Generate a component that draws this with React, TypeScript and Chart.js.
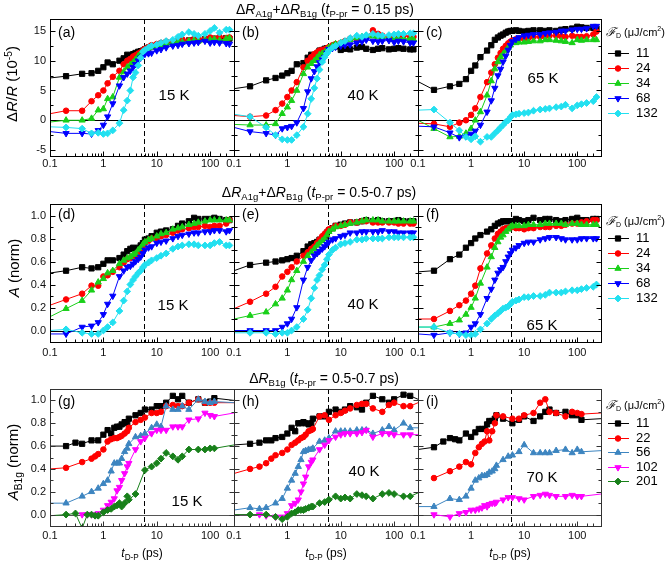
import React, { useEffect, useRef } from 'react';
import { Chart, registerables } from 'chart.js';

Chart.register(...registerables);

const FONT = "'Liberation Sans', Arial, Helvetica, sans-serif";
Chart.defaults.font.family = FONT;

const W = 665;
const H = 561;
const X_MIN = 0.1;
const X_MAX = 280;
const DASH_T = 5.7;
const X_LABELS = [0.1, 1, 10, 100];
const Y_TICKS_DR = [-5, 0, 5, 10, 15];
const Y_TICKS_NORM = [0, 0.2, 0.4, 0.6, 0.8, 1.0];

const COL_L = [50, 234, 418];
const COL_R = [234, 418, 601];
const ROW_T = [19, 204, 389];
const ROW_B = [156, 342, 526];

// ---- time grids (ps) ----
const T12 = [0.1, 0.2, 0.4, 0.6, 0.8, 1, 1.2, 1.5, 2, 2.4, 2.8, 3.2, 3.6, 4, 4.5, 5, 5.5, 6, 7, 8, 10, 12, 15, 20, 25, 30, 40, 50, 60, 80, 100, 120, 150, 200, 230];
const T3 = [0.1, 0.2, 0.3, 0.4, 0.5, 0.6, 0.7, 0.8, 1, 1.2, 1.4, 1.6, 1.8, 2, 2.2, 2.5, 2.8, 3, 4, 5, 6, 8, 10, 12, 15, 20, 25, 30, 40, 60, 80, 100, 120, 150, 200, 280];

// ---- (a) 15 K, dR/R (1e-5) ----
const A_11 = [7.1, 7.4, 7.8, 7.9, 8.3, 8.9, 9.7, 9.4, 10.0, 10.4, 11.0, 10.8, 11.1, 11.3, 11.5, 11.6, 11.7, 11.9, 12.2, 12.4, 12.6, 12.8, 13.0, 13.1, 13.3, 13.2, 13.4, 13.5, 13.4, 13.6, 13.5, 13.7, 13.6, 13.8, 13.7];
const A_24 = [1.1, 1.6, 1.6, 3.2, 4.2, 5.0, 6.2, 7.3, 8.3, 9.4, 10.0, 10.3, 10.7, 10.9, 11.2, 11.4, 11.7, 12.0, 12.3, 12.6, 12.8, 13.0, 13.2, 13.0, 13.3, 13.6, 13.4, 13.6, 13.8, 13.6, 13.9, 13.7, 14.0, 13.8, 13.9];
const A_34 = [-0.3, 0, 0, 0.3, 1.7, 1.9, 3.6, 3.9, 7.2, 8.1, 8.9, 9.3, 9.7, 10.2, 10.8, 11.2, 11.5, 11.7, 12.1, 12.3, 12.5, 12.7, 12.9, 13.0, 13.2, 13.1, 13.3, 13.4, 13.3, 13.5, 13.5, 13.6, 13.4, 13.7, 13.8];
const A_68 = [-1.9, -2.2, -2.2, -2.3, -1.7, -0.8, 0.6, 2.8, 5.8, 7.2, 7.8, 8.3, 8.9, 9.4, 10.0, 10.5, 10.8, 11.1, 11.2, 11.3, 11.7, 11.9, 12.2, 12.5, 12.6, 12.8, 12.9, 13.0, 13.1, 13.3, 13.0, 13.1, 13.0, 12.9, 12.8];
const A_132 = [-1.1, -1.2, -1.4, -2.2, -2.1, -2.3, -2.2, -1.7, -0.5, 1.7, 3.3, 5.0, 7.2, 8.0, 9.2, 10.5, 11.5, 11.8, 12.2, 12.5, 12.7, 13.0, 13.3, 13.5, 14.0, 14.4, 14.8, 14.5, 14.2, 14.5, 15.0, 15.5, 14.7, 15.2, 15.2];

// ---- (b) 40 K ----
const B_11 = [5.3, 5.7, 6.7, 7.1, 7.5, 7.9, 8.3, 9.4, 9.6, 10.5, 11.0, 10.7, 11.2, 11.7, 11.8, 12.0, 12.1, 12.1, 12.3, 12.4, 11.8, 12.0, 11.9, 12.2, 12.3, 12.0, 11.8, 12.0, 12.1, 11.9, 12.0, 12.1, 12.0, 11.9, 11.9];
const B_24 = [0.8, 0.6, 0.8, 1.7, 2.8, 3.9, 5.0, 6.4, 8.9, 10.0, 10.6, 11.1, 11.4, 11.7, 11.8, 11.9, 12.1, 12.3, 12.6, 12.8, 13.0, 13.3, 13.7, 13.5, 13.8, 14.0, 15.1, 14.5, 14.2, 14.0, 14.0, 14.1, 14.2, 14.0, 14.0];
const B_34 = [-0.7, -0.8, -0.8, -0.6, 1.1, 2.2, 3.3, 5.0, 7.8, 8.9, 9.5, 10.0, 10.5, 11.0, 11.2, 11.4, 11.8, 12.2, 12.5, 12.8, 13.0, 13.2, 13.5, 13.8, 14.0, 14.2, 14.1, 14.0, 13.9, 13.8, 13.7, 13.8, 13.7, 13.7, 13.6];
const B_68 = [-1.2, -1.9, -2.2, -2.5, -1.4, -1.2, -1.0, -0.4, 2.0, 4.8, 7.0, 8.2, 9.0, 9.7, 10.2, 10.6, 11.3, 11.9, 12.1, 12.3, 12.5, 12.6, 12.7, 13.0, 13.2, 13.5, 13.3, 13.2, 13.3, 13.4, 13.1, 13.3, 13.2, 13.0, 13.0];
const B_132 = [1.0, 0.6, -1.2, -2.5, -3.2, -3.3, -3.3, -2.5, -1.1, 1.1, 3.6, 5.4, 7.0, 8.5, 9.8, 10.6, 11.2, 11.7, 12.2, 12.5, 13.0, 13.3, 13.8, 14.2, 14.0, 14.3, 14.5, 14.3, 14.2, 14.3, 14.4, 14.5, 14.5, 14.6, 14.6];

// ---- (c) 65 K ----
const C_11 = [6.5, 5.1, 5.7, 6.1, 6.9, 8.3, 9.2, 10.6, 11.7, 12.6, 13.5, 13.9, 14.2, 14.4, 14.7, 14.9, 15.0, 15.0, 15.1, 15.0, 14.9, 15.0, 15.1, 15.1, 15.0, 15.1, 15.0, 15.2, 15.3, 15.4, 15.7, 15.6, 15.5, 15.5, 15.4];
const C_24 = [-0.5, -0.6, -1.1, -0.4, 0, 0.9, 2.0, 3.9, 6.4, 8.0, 9.4, 10.5, 11.3, 12.0, 12.5, 12.9, 13.2, 13.4, 13.6, 13.7, 13.7, 13.8, 14.0, 14.0, 14.1, 14.2, 14.2, 14.1, 14.0, 14.2, 14.0, 14.0, 14.1, 14.4, 14.9];
const C_34 = [0, -1.4, -2.8, -2.7, -2.2, -1.4, 0, 1.4, 4.2, 6.6, 8.6, 9.8, 10.6, 11.1, 11.7, 12.2, 12.6, 13.0, 13.0, 13.1, 13.1, 13.2, 13.3, 13.3, 13.5, 13.5, 13.4, 13.3, 13.2, 13.0, 13.5, 13.4, 13.5, 13.5, 13.5];
const C_68 = [-1.0, -1.1, -2.1, -2.9, -2.7, -2.3, -1.8, -0.8, 1.4, 3.3, 5.4, 7.5, 8.6, 9.8, 10.8, 11.8, 12.6, 13.2, 13.6, 13.9, 14.2, 14.3, 14.4, 14.4, 14.6, 14.7, 14.8, 15.0, 15.0, 15.2, 15.3, 15.3, 15.4, 15.8, 15.8];
const C_132 = [1.7, 1.8, -0.4, -1.7, -2.8, -3.2, -2.7, -3.6, -2.8, -2.8, -2.2, -1.7, -1.2, -0.8, -0.3, 0, 0.5, 0.9, 1.0, 1.1, 1.2, 1.3, 1.6, 1.8, 1.9, 2.0, 2.2, 2.3, 2.6, 2.0, 2.5, 2.7, 2.9, 3.2, 3.9];

// ---- (d) 15 K, A (norm) ----
const D_11 = [0.50, 0.52, 0.55, 0.54, 0.55, 0.58, 0.61, 0.61, 0.63, 0.66, 0.69, 0.71, 0.72, 0.70, 0.72, 0.74, 0.76, 0.79, 0.80, 0.82, 0.85, 0.86, 0.87, 0.88, 0.91, 0.93, 0.95, 0.98, 0.97, 0.97, 0.97, 0.98, 0.97, 0.96, 0.96];
const D_24 = [0.22, 0.27, 0.32, 0.39, 0.39, 0.47, 0.48, 0.51, 0.55, 0.59, 0.62, 0.63, 0.64, 0.65, 0.68, 0.70, 0.73, 0.76, 0.78, 0.80, 0.80, 0.82, 0.83, 0.85, 0.87, 0.88, 0.89, 0.90, 0.90, 0.91, 0.90, 0.91, 0.91, 0.93, 0.96];
const D_34 = [0.12, 0.19, 0.26, 0.35, 0.42, 0.45, 0.50, 0.52, 0.58, 0.61, 0.63, 0.64, 0.66, 0.67, 0.70, 0.72, 0.75, 0.77, 0.79, 0.80, 0.82, 0.84, 0.85, 0.88, 0.89, 0.90, 0.92, 0.93, 0.94, 0.95, 0.96, 0.96, 0.96, 0.96, 0.96];
const D_68 = [-0.03, -0.03, 0.03, 0.04, 0.07, 0.14, 0.23, 0.30, 0.47, 0.52, 0.55, 0.56, 0.58, 0.60, 0.62, 0.64, 0.67, 0.70, 0.72, 0.73, 0.76, 0.77, 0.78, 0.80, 0.82, 0.83, 0.84, 0.85, 0.85, 0.86, 0.86, 0.87, 0.87, 0.86, 0.87];
const D_132 = [0, 0.01, -0.02, -0.03, -0.03, 0, 0.03, 0.07, 0.17, 0.26, 0.34, 0.40, 0.44, 0.47, 0.50, 0.52, 0.55, 0.57, 0.59, 0.61, 0.63, 0.65, 0.67, 0.71, 0.73, 0.74, 0.75, 0.75, 0.74, 0.74, 0.74, 0.76, 0.77, 0.74, 0.74];

// ---- (e) 40 K ----
const E_11 = [0.52, 0.57, 0.59, 0.60, 0.61, 0.62, 0.63, 0.65, 0.69, 0.73, 0.75, 0.76, 0.77, 0.79, 0.80, 0.82, 0.85, 0.87, 0.89, 0.91, 0.92, 0.93, 0.94, 0.94, 0.95, 0.96, 0.95, 0.96, 0.95, 0.95, 0.95, 0.96, 0.95, 0.95, 0.95];
const E_24 = [0.19, 0.25, 0.32, 0.38, 0.47, 0.51, 0.55, 0.60, 0.65, 0.68, 0.71, 0.73, 0.76, 0.79, 0.82, 0.84, 0.86, 0.88, 0.89, 0.91, 0.91, 0.92, 0.94, 0.94, 0.95, 0.95, 0.94, 0.94, 0.94, 0.94, 0.94, 0.93, 0.93, 0.93, 0.93];
const E_34 = [0.10, 0.13, 0.16, 0.23, 0.28, 0.35, 0.44, 0.52, 0.60, 0.65, 0.68, 0.71, 0.74, 0.76, 0.78, 0.80, 0.83, 0.86, 0.88, 0.90, 0.91, 0.92, 0.93, 0.94, 0.95, 0.96, 0.96, 0.96, 0.95, 0.95, 0.95, 0.95, 0.95, 0.95, 0.95];
const E_68 = [0, 0, 0, 0, 0.03, 0.06, 0.10, 0.20, 0.44, 0.55, 0.61, 0.65, 0.67, 0.69, 0.71, 0.73, 0.75, 0.77, 0.79, 0.80, 0.82, 0.83, 0.85, 0.85, 0.86, 0.86, 0.86, 0.86, 0.87, 0.86, 0.86, 0.85, 0.85, 0.85, 0.85];
const E_132 = [-0.02, -0.02, -0.02, -0.03, -0.02, -0.02, 0, 0.03, 0.10, 0.18, 0.28, 0.37, 0.44, 0.48, 0.53, 0.57, 0.62, 0.66, 0.70, 0.72, 0.75, 0.76, 0.77, 0.79, 0.79, 0.80, 0.80, 0.80, 0.80, 0.81, 0.81, 0.81, 0.81, 0.81, 0.81];

// ---- (f) 65 K ----
const F_11 = [0.51, 0.52, 0.62, 0.66, 0.72, 0.76, 0.80, 0.83, 0.86, 0.88, 0.91, 0.93, 0.94, 0.95, 0.95, 0.95, 0.95, 0.95, 0.97, 0.96, 0.95, 0.96, 0.98, 0.96, 0.97, 0.97, 0.96, 0.95, 0.96, 0.97, 0.98, 0.96, 0.96, 0.97, 0.97];
const F_24 = [0.10, 0.10, 0.17, 0.22, 0.26, 0.32, 0.39, 0.54, 0.67, 0.74, 0.80, 0.84, 0.86, 0.88, 0.89, 0.89, 0.90, 0.90, 0.89, 0.89, 0.88, 0.89, 0.89, 0.90, 0.90, 0.90, 0.91, 0.91, 0.92, 0.93, 0.93, 0.94, 0.95, 0.96, 0.96];
const F_34 = [0.03, 0.03, 0.06, 0.09, 0.14, 0.20, 0.28, 0.41, 0.55, 0.64, 0.72, 0.77, 0.81, 0.83, 0.86, 0.88, 0.90, 0.91, 0.91, 0.91, 0.91, 0.92, 0.92, 0.92, 0.93, 0.93, 0.93, 0.93, 0.92, 0.93, 0.93, 0.92, 0.92, 0.92, 0.92];
const F_68 = [-0.03, -0.04, -0.02, -0.03, -0.02, 0.03, 0.06, 0.14, 0.28, 0.36, 0.44, 0.50, 0.53, 0.55, 0.60, 0.64, 0.67, 0.70, 0.72, 0.74, 0.76, 0.77, 0.77, 0.79, 0.80, 0.81, 0.81, 0.80, 0.79, 0.79, 0.79, 0.80, 0.80, 0.80, 0.80];
const F_132 = [0.03, 0.03, -0.02, -0.03, -0.04, -0.04, -0.03, 0.01, 0.06, 0.10, 0.13, 0.15, 0.17, 0.19, 0.20, 0.21, 0.23, 0.25, 0.26, 0.27, 0.29, 0.29, 0.30, 0.30, 0.31, 0.33, 0.33, 0.33, 0.34, 0.35, 0.35, 0.36, 0.37, 0.38, 0.40];

// ---- (g) 15 K, A_B1g (norm) ----
const G_11 = [0.60, 0.60, 0.63, 0.62, null, 0.65, null, 0.65, 0.70, 0.74, 0.71, 0.76, 0.77, 0.77, 0.79, 0.81, 0.80, 0.84, 0.87, 0.89, 0.92, 0.92, 0.95, 0.95, 0.98, 1.04, 1.01, 1.04, 0.98, 1.01, 0.98, 0.99, 1.02, null, null, 1.00];
const G_22 = [0.40, 0.41, null, 0.46, null, 0.49, 0.51, 0.53, 0.57, 0.64, 0.66, 0.67, 0.67, 0.68, 0.69, 0.71, 0.73, 0.76, 0.81, 0.83, 0.85, 0.89, 0.89, 0.90, 0.95, 0.96, 0.95, 0.95, 0.98, 1.01, 0.98, 0.98, 0.98, null, null, 0.98];
const G_56 = [0.10, 0.10, null, 0.16, null, 0.20, null, 0.23, 0.27, 0.30, 0.38, 0.45, 0.45, 0.45, 0.49, 0.55, 0.58, 0.62, 0.68, 0.69, 0.71, 0.76, 0.79, 0.77, 0.95, 0.92, 0.92, 0.95, 0.92, 1.01, 0.99, 0.98, 0.99, null, null, 0.98];
const G_102 = [null, null, null, 0, 0, 0, null, 0.01, 0.04, 0.08, 0.11, 0.14, 0.21, 0.24, 0.30, 0.36, 0.42, 0.45, 0.57, 0.64, 0.67, 0.71, 0.74, 0.74, 0.74, 0.77, 0.77, 0.77, 0.83, 0.84, 0.89, 0.87, 0.86, null, null, 0.89];
const G_201 = [-0.01, 0, 0.01, -0.12, 0, 0, -0.01, -0.01, 0.02, 0.04, 0.05, 0.07, 0.08, 0.10, 0.07, 0.10, 0.16, 0.13, 0.18, null, 0.39, 0.42, 0.45, 0.49, 0.54, 0.51, 0.48, 0.51, 0.57, 0.57, 0.57, 0.58, 0.58, null, null, 0.61];

// ---- (h) 40 K ----
const H_11 = [0.61, 0.62, 0.63, 0.65, 0.65, 0.67, null, 0.68, 0.71, 0.76, 0.73, 0.80, 0.80, 0.81, 0.80, 0.79, 0.80, 0.84, 0.86, 0.86, 0.90, 0.92, 0.90, 0.92, 0.95, 0.94, 0.92, 0.98, 1.04, 1.01, 0.98, 1.01, null, 1.05, 1.04, 1.01];
const H_22 = [0.36, 0.40, 0.42, 0.45, 0.49, 0.52, null, 0.54, 0.57, 0.61, 0.63, 0.65, 0.67, 0.68, 0.70, 0.73, 0.74, 0.75, 0.86, 0.87, 0.83, 0.87, 0.89, 0.91, 0.93, 0.96, 0.97, 0.97, 0.93, 0.90, 0.96, 0.98, null, 0.95, 0.95, 0.98];
const H_56 = [0.04, 0.06, 0.05, 0.06, null, 0.10, null, 0.14, 0.23, 0.30, 0.36, 0.42, 0.48, 0.55, 0.56, 0.57, 0.57, 0.58, 0.64, 0.65, 0.67, 0.73, 0.73, 0.73, 0.73, 0.74, 0.74, 0.74, 0.71, 0.74, 0.77, 0.74, null, 0.80, 0.76, 0.76];
const H_102 = [0, null, 0, -0.01, null, -0.02, null, -0.02, 0.01, 0.08, 0.10, 0.13, 0.20, 0.27, 0.33, 0.42, 0.46, 0.48, 0.57, 0.61, 0.65, 0.68, 0.70, 0.71, 0.71, 0.71, 0.72, 0.74, 0.68, 0.71, 0.71, 0.70, null, 0.70, 0.70, 0.70];
const H_201 = [0, 0, null, 0, null, -0.02, null, -0.04, -0.02, 0.01, 0.02, 0.04, 0.04, 0.04, 0.05, 0.06, 0.07, 0.07, 0.10, 0.11, 0.13, 0.16, 0.14, 0.15, 0.14, 0.18, 0.17, 0.16, 0.14, 0.18, 0.19, 0.18, null, 0.16, 0.16, 0.19];

// ---- (i) 70 K ----
const I_11 = [0.57, 0.59, 0.64, 0.67, 0.66, 0.65, null, 0.71, 0.68, 0.72, 0.75, 0.75, 0.75, 0.79, 0.82, 0.82, 0.84, 0.87, 0.84, null, 0.80, 0.83, 0.86, null, 0.82, 0.86, 0.90, 0.92, 0.89, 0.90, 0.87, 0.87, 0.83, null, null, 0.84];
const I_22 = [null, 0.32, null, 0.38, null, 0.42, null, 0.46, 0.44, 0.54, 0.59, 0.62, 0.64, 0.73, 0.65, 0.73, 0.80, 0.87, 0.86, null, 0.84, 0.84, 0.87, null, 0.89, 0.98, 1.01, 0.90, 0.89, 0.86, 0.90, 0.89, 0.88, null, null, 0.89];
const I_56 = [0.07, 0.07, null, 0.14, null, 0.13, null, 0.16, 0.23, 0.30, 0.32, 0.34, 0.34, 0.35, 0.37, 0.38, 0.40, 0.43, 0.48, 0.51, 0.52, 0.55, 0.61, null, 0.54, 0.54, 0.54, 0.54, 0.56, 0.57, 0.54, 0.57, 0.55, null, null, 0.56];
const I_102 = [null, 0, null, -0.02, null, 0.01, null, 0.02, 0.04, 0.04, 0.05, 0.06, 0.08, 0.07, 0.09, 0.10, 0.10, 0.11, 0.13, 0.15, 0.15, 0.14, 0.13, null, 0.16, 0.17, 0.18, 0.17, 0.16, 0.16, 0.17, 0.16, 0.16, null, null, 0.18];
const I_201: (number | null)[] = [];

type Shape = 'rect' | 'circle' | 'triangle' | 'down' | 'diamond';
interface SeriesStyle { label: string; color: string; shape: Shape }

const STYLE_12: SeriesStyle[] = [
  { label: '11', color: '#000000', shape: 'rect' },
  { label: '24', color: '#ff0000', shape: 'circle' },
  { label: '34', color: '#19d019', shape: 'triangle' },
  { label: '68', color: '#0000ff', shape: 'down' },
  { label: '132', color: '#22e0f0', shape: 'diamond' },
];
const STYLE_3: SeriesStyle[] = [
  { label: '11', color: '#000000', shape: 'rect' },
  { label: '22', color: '#ff0000', shape: 'circle' },
  { label: '56', color: '#3d85c0', shape: 'triangle' },
  { label: '102', color: '#ff00ff', shape: 'down' },
  { label: '201', color: '#18801a', shape: 'diamond' },
];

const SIZE: Record<Shape, number> = { rect: 3.7, circle: 2.8, triangle: 3.6, down: 3.6, diamond: 3.4 };
const PSTYLE: Record<Shape, string> = { rect: 'rect', circle: 'circle', triangle: 'triangle', down: 'triangle', diamond: 'rectRot' };

interface RowCfg {
  yMin: number; yMax: number; ticks: number[]; dec: number; t: number[]; styles: SeriesStyle[];
  zero: string; frame: string; xPad: number; labelDy: number; legTitleDy: number; legStep: number;
}
const ROWS: RowCfg[] = [
  { yMin: -6, yMax: 17, ticks: Y_TICKS_DR, dec: 0, t: T12, styles: STYLE_12, zero: '#000', frame: '#000', xPad: 1, labelDy: 13, legTitleDy: 14, legStep: 15 },
  { yMin: -0.1, yMax: 1.1, ticks: Y_TICKS_NORM, dec: 1, t: T12, styles: STYLE_12, zero: '#000', frame: '#000', xPad: 4, labelDy: 10, legTitleDy: 18, legStep: 15 },
  { yMin: -0.1, yMax: 1.1, ticks: Y_TICKS_NORM, dec: 1, t: T3, styles: STYLE_3, zero: '#555', frame: '#333', xPad: 3, labelDy: 12, legTitleDy: 17, legStep: 14.6 },
];

interface PanelCfg { key: string; row: number; col: number; temp: string; tx: number; ty: number; series: (number | null)[][] }
const PANELS: PanelCfg[] = [
  { key: 'a', row: 0, col: 0, temp: '15 K', tx: 174, ty: 94, series: [A_11, A_24, A_34, A_68, A_132] },
  { key: 'b', row: 0, col: 1, temp: '40 K', tx: 363, ty: 94, series: [B_11, B_24, B_34, B_68, B_132] },
  { key: 'c', row: 0, col: 2, temp: '65 K', tx: 543, ty: 77, series: [C_11, C_24, C_34, C_68, C_132] },
  { key: 'd', row: 1, col: 0, temp: '15 K', tx: 173, ty: 304, series: [D_11, D_24, D_34, D_68, D_132] },
  { key: 'e', row: 1, col: 1, temp: '40 K', tx: 363, ty: 303, series: [E_11, E_24, E_34, E_68, E_132] },
  { key: 'f', row: 1, col: 2, temp: '65 K', tx: 542, ty: 324, series: [F_11, F_24, F_34, F_68, F_132] },
  { key: 'g', row: 2, col: 0, temp: '15 K', tx: 187, ty: 500, series: [G_11, G_22, G_56, G_102, G_201] },
  { key: 'h', row: 2, col: 1, temp: '40 K', tx: 364, ty: 470, series: [H_11, H_22, H_56, H_102, H_201] },
  { key: 'i', row: 2, col: 2, temp: '70 K', tx: 542, ty: 476, series: [I_11, I_22, I_56, I_102, I_201] },
];

function drawMarker(ctx: CanvasRenderingContext2D, shape: Shape, x: number, y: number, color: string) {
  const r = SIZE[shape];
  ctx.save();
  ctx.fillStyle = color;
  ctx.strokeStyle = color;
  ctx.lineWidth = 1;
  ctx.setLineDash([]);
  ctx.beginPath();
  if (shape === 'rect') {
    const s = r * Math.SQRT1_2;
    ctx.rect(x - s, y - s, 2 * s, 2 * s);
  } else if (shape === 'circle') {
    ctx.arc(x, y, r, 0, Math.PI * 2);
  } else if (shape === 'triangle' || shape === 'down') {
    const k = shape === 'down' ? -1 : 1;
    for (let i = 0; i < 3; i++) {
      const ang = (i * 2 * Math.PI) / 3;
      const px = x + Math.sin(ang) * r;
      const py = y - k * Math.cos(ang) * r;
      if (i === 0) ctx.moveTo(px, py); else ctx.lineTo(px, py);
    }
    ctx.closePath();
  } else {
    ctx.moveTo(x, y - r); ctx.lineTo(x + r, y); ctx.lineTo(x, y + r); ctx.lineTo(x - r, y); ctx.closePath();
  }
  ctx.fill();
  ctx.stroke();
  ctx.restore();
}

const framePlugin = {
  id: 'frame',
  beforeDatasetsDraw(chart: any, _a: any, o: any) {
    const { ctx, chartArea: a } = chart;
    const x = chart.scales.x;
    const y = chart.scales.y;
    ctx.save();
    ctx.beginPath();
    ctx.rect(a.left, a.top, a.right - a.left, a.bottom - a.top);
    ctx.clip();
    const y0 = Math.round(y.getPixelForValue(0)) + 0.5;
    ctx.strokeStyle = o.zeroColor;
    ctx.lineWidth = 1;
    ctx.beginPath(); ctx.moveTo(a.left, y0); ctx.lineTo(a.right, y0); ctx.stroke();
    const xd = Math.round(x.getPixelForValue(DASH_T)) + 0.5;
    ctx.strokeStyle = '#000';
    ctx.setLineDash([5, 3]);
    ctx.beginPath(); ctx.moveTo(xd, a.top); ctx.lineTo(xd, a.bottom); ctx.stroke();
    ctx.restore();
  },
  afterDatasetsDraw(chart: any, _a: any, o: any) {
    const { ctx, chartArea: a } = chart;
    const x = chart.scales.x;
    const y = chart.scales.y;
    const L = Math.round(a.left) + 0.5;
    const R = Math.round(a.right) + 0.5;
    const T = Math.round(a.top) + 0.5;
    const B = Math.round(a.bottom) + 0.5;
    ctx.save();
    ctx.strokeStyle = o.frameColor;
    ctx.lineWidth = 1;
    ctx.strokeRect(L, T, R - L, B - T);
    ctx.beginPath();
    for (const t of x.ticks) {
      const v = t.value;
      if (v <= X_MIN * 1.001 || v >= X_MAX * 0.999) continue;
      const px = Math.round(x.getPixelForValue(v)) + 0.5;
      const major = X_LABELS.some((m) => Math.abs(v - m) < m * 1e-6);
      ctx.moveTo(px, B); ctx.lineTo(px, B - (major ? 5 : 3));
    }
    const vals: number[] = y.ticks.map((t: any) => t.value);
    const step = vals.length > 1 ? vals[1] - vals[0] : 1;
    for (const v of vals) {
      const py = Math.round(y.getPixelForValue(v)) + 0.5;
      ctx.moveTo(L, py); ctx.lineTo(L + 5, py);
      ctx.moveTo(R, py); ctx.lineTo(R - 5, py);
    }
    for (let v = vals[0] - step / 2; v < y.max; v += step) {
      if (v <= y.min) continue;
      const py = Math.round(y.getPixelForValue(v)) + 0.5;
      ctx.moveTo(L, py); ctx.lineTo(L + 3, py);
      ctx.moveTo(R, py); ctx.lineTo(R - 3, py);
    }
    ctx.stroke();
    ctx.restore();
  },
};

const legendPlugin = {
  id: 'sideLegend',
  afterDraw(chart: any, _a: any, o: any) {
    if (!o || !o.show) return;
    const { ctx, chartArea: a } = chart;
    const x0 = a.right + 5;
    ctx.save();
    ctx.fillStyle = '#000';
    ctx.textAlign = 'left';
    ctx.textBaseline = 'middle';
    const ty = a.top + o.titleDy;
    let tx = x0;
    ctx.font = `italic 12px 'DejaVu Serif', serif`;
    ctx.fillText('ℱ', tx, ty);
    tx += ctx.measureText('ℱ').width;
    ctx.font = `7px ${FONT}`;
    ctx.fillText('D', tx, ty + 3);
    tx += ctx.measureText('D').width;
    ctx.font = `11px ${FONT}`;
    ctx.fillText(' (μJ/cm', tx, ty);
    tx += ctx.measureText(' (μJ/cm').width;
    ctx.font = `7px ${FONT}`;
    ctx.fillText('2', tx, ty - 4);
    tx += ctx.measureText('2').width;
    ctx.font = `11px ${FONT}`;
    ctx.fillText(')', tx, ty);
    chart.data.datasets.forEach((ds: any, i: number) => {
      const yy = Math.round(a.top + 34 + i * o.step) + 0.5;
      ctx.strokeStyle = ds.borderColor;
      ctx.lineWidth = 1;
      ctx.beginPath(); ctx.moveTo(x0 + 2, yy); ctx.lineTo(x0 + 23, yy); ctx.stroke();
      drawMarker(ctx, ds.shape, x0 + 12, yy, ds.borderColor);
      ctx.fillStyle = '#000';
      ctx.font = `13px ${FONT}`;
      ctx.fillText(ds.label, x0 + 30, yy);
    });
    ctx.restore();
  },
};

const YW = 40;
const XH = 20;

function buildConfig(p: PanelCfg): any {
  const row = ROWS[p.row];
  const L = COL_L[p.col];
  const R = COL_R[p.col];
  const T = ROW_T[p.row];
  const B = ROW_B[p.row];
  const n = row.styles.length;
  const datasets = row.styles.map((s, idx) => {
    const vals = p.series[idx];
    const data = vals.map((v, i) => ({ x: row.t[i], y: v }));
    const r = SIZE[s.shape];
    return {
      label: s.label,
      data,
      shape: s.shape,
      borderColor: s.color,
      backgroundColor: s.color,
      borderWidth: 1,
      tension: 0,
      spanGaps: true,
      pointStyle: PSTYLE[s.shape],
      pointRotation: s.shape === 'down' ? 180 : 0,
      pointRadius: (c: any) => {
        const raw = c.raw;
        if (!raw) return r;
        return raw.x <= X_MIN || raw.x >= X_MAX ? 0 : r;
      },
      pointHoverRadius: 0,
      pointBorderWidth: 1,
      pointBackgroundColor: s.color,
      pointBorderColor: s.color,
      order: n - idx,
    };
  });
  return {
    type: 'line',
    data: { datasets },
    plugins: [framePlugin, legendPlugin],
    options: {
      animation: false,
      responsive: false,
      maintainAspectRatio: false,
      devicePixelRatio: 1,
      events: [],
      layout: { padding: { left: L - YW, top: T, right: W - R, bottom: H - B - XH } },
      plugins: {
        legend: { display: false },
        tooltip: { enabled: false },
        title: { display: false },
        frame: { zeroColor: row.zero, frameColor: row.frame },
        sideLegend: { show: p.col === 2, titleDy: row.legTitleDy, step: row.legStep },
      },
      scales: {
        x: {
          type: 'logarithmic',
          min: X_MIN,
          max: X_MAX,
          grid: { display: false, drawTicks: false },
          border: { display: false },
          ticks: {
            autoSkip: false,
            maxRotation: 0,
            minRotation: 0,
            padding: row.xPad,
            color: '#111',
            font: { family: FONT, size: 11 },
            callback: (v: any) => {
              const m = X_LABELS.find((q) => Math.abs(Number(v) - q) < q * 1e-6);
              return m === undefined ? '' : String(m);
            },
          },
          afterFit: (s: any) => { s.height = XH; },
        },
        y: {
          type: 'linear',
          min: row.yMin,
          max: row.yMax,
          grid: { display: false, drawTicks: false },
          border: { display: false },
          afterBuildTicks: (s: any) => { s.ticks = row.ticks.map((v) => ({ value: v })); },
          ticks: {
            display: p.col === 0,
            padding: 4,
            color: '#111',
            font: { family: FONT, size: 11 },
            callback: (v: any) => Number(v).toFixed(row.dec),
          },
          afterFit: (s: any) => { s.width = YW; },
        },
      },
    },
  };
}

const Sub = ({ children }: { children: React.ReactNode }) => (
  <span style={{ fontSize: '0.68em', position: 'relative', top: '0.35em' }}>{children}</span>
);
const Sup = ({ children }: { children: React.ReactNode }) => (
  <span style={{ fontSize: '0.68em', position: 'relative', top: '-0.5em' }}>{children}</span>
);

const Txt = ({ x, y, size, rotate, left, children }: { x: number; y: number; size: number; rotate?: boolean; left?: boolean; children: React.ReactNode }) => (
  <div
    style={{
      position: 'absolute',
      left: x,
      top: y,
      transform: `${left ? 'translate(0,-50%)' : 'translate(-50%,-50%)'}${rotate ? ' rotate(-90deg)' : ''}`,
      fontFamily: FONT,
      fontSize: size,
      lineHeight: 1,
      whiteSpace: 'nowrap',
      color: '#000',
    }}
  >
    {children}
  </div>
);

export default function App() {
  const refs = useRef<(HTMLCanvasElement | null)[]>([]);
  useEffect(() => {
    const charts = PANELS.map((p, i) => new Chart(refs.current[i] as HTMLCanvasElement, buildConfig(p)));
    return () => charts.forEach((c) => c.destroy());
  }, []);
  return (
    <div style={{ position: 'fixed', left: 0, top: 0, width: W, height: H, background: '#fff', overflow: 'hidden', fontFamily: FONT }}>
      {PANELS.map((p, i) => (
        <canvas
          key={p.key}
          ref={(el) => { refs.current[i] = el; }}
          width={W}
          height={H}
          style={{ position: 'absolute', left: 0, top: 0, width: W, height: H }}
        />
      ))}
      <Txt x={325} y={9} size={14}>
        Δ<i>R</i><Sub>A1g</Sub>+Δ<i>R</i><Sub>B1g</Sub> (<i>t</i><Sub>P-pr</Sub> = 0.15 ps)
      </Txt>
      <Txt x={319} y={192} size={14}>
        Δ<i>R</i><Sub>A1g</Sub>+Δ<i>R</i><Sub>B1g</Sub> (<i>t</i><Sub>P-pr</Sub> = 0.5-0.7 ps)
      </Txt>
      <Txt x={324} y={378} size={14}>
        Δ<i>R</i><Sub>B1g</Sub> (<i>t</i><Sub>P-pr</Sub> = 0.5-0.7 ps)
      </Txt>
      <Txt x={12} y={84} size={15} rotate>
        Δ<i>R</i>/<i>R</i> (10<Sup>-5</Sup>)
      </Txt>
      <Txt x={13} y={268} size={15} rotate>
        <i>A</i> (norm)
      </Txt>
      <Txt x={13} y={462} size={15} rotate>
        <i>A</i><Sub>B1g</Sub> (norm)
      </Txt>
      {[142, 326, 510].map((x) => (
        <Txt key={x} x={x} y={553} size={12}>
          <i>t</i><Sub>D-P</Sub> (ps)
        </Txt>
      ))}
      {PANELS.map((p) => (
        <Txt key={'l' + p.key} x={COL_L[p.col] + 8} y={ROW_T[p.row] + ROWS[p.row].labelDy} size={14} left>
          ({p.key})
        </Txt>
      ))}
      {PANELS.map((p) => (
        <Txt key={'t' + p.key} x={p.tx} y={p.ty} size={15}>
          {p.temp}
        </Txt>
      ))}
    </div>
  );
}
